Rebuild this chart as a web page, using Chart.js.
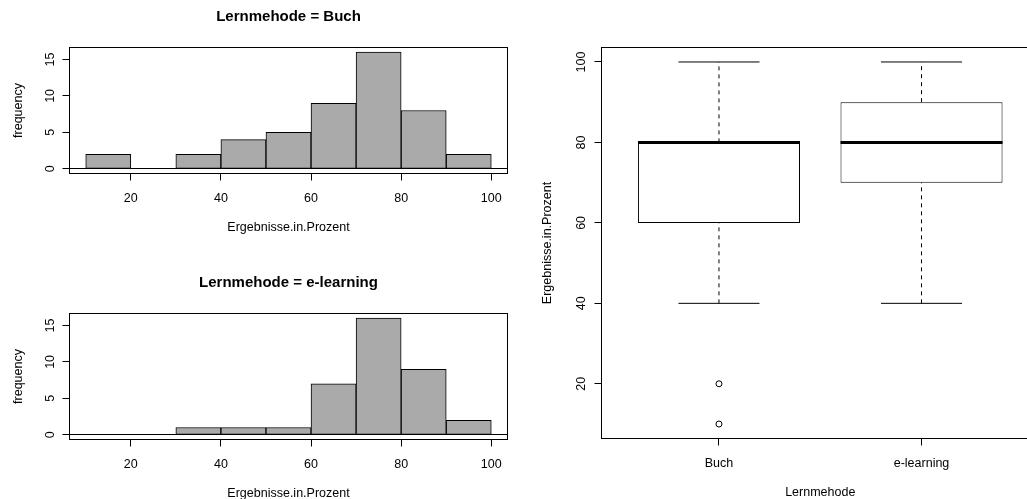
<!DOCTYPE html>
<html>
<head>
<meta charset="utf-8">
<script src="https://cdn.jsdelivr.net/npm/chart.js@4.4.1/dist/chart.umd.min.js"></script>
<style>
  html, body { margin: 0; padding: 0; width: 1027px; height: 499px; overflow: hidden; background: #fff; }
  canvas { position: absolute; }
  #histBuch { left: 0; top: 0; }
  #histElearning { left: 0; top: 266px; }
  #boxplot { left: 520px; top: 0; }
</style>
</head>
<body>
<canvas id="histBuch" width="520" height="250"></canvas>
<canvas id="histElearning" width="520" height="250"></canvas>
<canvas id="boxplot" width="540" height="515"></canvas>
<script>
// --- histogram data (bins of width 10, right-closed) ---
const binStarts = [10, 20, 30, 40, 50, 60, 70, 80, 90];
const binWidth = 10;
const countsBuch = [2, 0, 2, 4, 5, 9, 16, 8, 2];
const countsElearning = [0, 0, 1, 1, 1, 7, 16, 9, 2];
const histTicksX = [20, 40, 60, 80, 100];
const histTicksY = [0, 5, 10, 15];

// --- boxplot data ---
const groups = ['Buch', 'e-learning'];
const whiskerLow = [40, 40];
const q1 = [60, 70];
const medians = [80, 80];
const q3 = [80, 90];
const whiskerHigh = [100, 100];
const outliers = [[20, 10], []];
const boxTicksY = [20, 40, 60, 80, 100];

const FONT = "'Liberation Sans', Arial, Helvetica, sans-serif";
Chart.defaults.font.family = FONT;
Chart.defaults.font.size = 12.5;
Chart.defaults.color = '#000';

// R style axis range: data range plus 4% on each side
const rRange = (lo, hi) => {
  const pad = (hi - lo) * 0.04;
  return { min: lo - pad, max: hi + pad };
};

const fixTicks = values => scale => {
  scale.ticks = values.map(v => ({ value: v }));
};

// box around the plot region
const framePlugin = {
  id: 'frame',
  afterDatasetsDraw(chart) {
    const { ctx, chartArea: a } = chart;
    ctx.save();
    ctx.strokeStyle = '#000';
    ctx.lineWidth = 1;
    ctx.strokeRect(a.left, a.top, a.right - a.left, a.bottom - a.top);
    ctx.restore();
  }
};

function histogram(id, title, counts) {
  const xr = rRange(binStarts[0], binStarts[binStarts.length - 1] + binWidth);
  const yr = rRange(0, Math.max(...counts));
  new Chart(document.getElementById(id), {
    type: 'bar',
    data: {
      datasets: [{
        data: binStarts.map((b, i) => ({ x: b + binWidth / 2, y: counts[i] })),
        backgroundColor: '#aaaaaa',
        borderColor: '#000',
        borderWidth: 1,
        borderSkipped: false,
        barPercentage: 1,
        categoryPercentage: 1
      }]
    },
    options: {
      responsive: false,
      animation: false,
      layout: { padding: { left: 0, right: 12.5, top: 0, bottom: 0 } },
      plugins: {
        legend: { display: false },
        tooltip: { enabled: false },
        title: {
          display: true,
          text: title,
          fullSize: false,
          color: '#000',
          font: { size: 15, weight: 'bold' },
          padding: { top: 8, bottom: 21.5 }
        }
      },
      scales: {
        x: {
          type: 'linear',
          min: xr.min,
          max: xr.max,
          offset: false,
          afterBuildTicks: fixTicks(histTicksX),
          afterFit: s => { s.height = 76.5; },
          grid: { offset: false, drawOnChartArea: false, tickLength: 7, tickColor: '#000' },
          border: { display: false },
          ticks: { padding: 10.5, maxRotation: 0 },
          title: { display: true, text: 'Ergebnisse.in.Prozent', padding: { top: 0, bottom: 14.5 } }
        },
        y: {
          min: yr.min,
          max: yr.max,
          afterBuildTicks: fixTicks(histTicksY),
          afterFit: s => { s.width = 69.5; },
          grid: {
            color: c => (c.tick && c.tick.value === 0 ? '#000' : 'rgba(0,0,0,0)'),
            tickLength: 7,
            tickColor: '#000'
          },
          border: { display: false },
          ticks: { minRotation: 90, maxRotation: 90, crossAlign: 'center', padding: 5 },
          title: { display: true, text: 'frequency', padding: { top: 10.8, bottom: 0 } }
        }
      }
    },
    plugins: [framePlugin]
  });
}

histogram('histBuch', 'Lernmehode = Buch', countsBuch);
histogram('histElearning', 'Lernmehode = e-learning', countsElearning);

// --- boxplot built from floating bars and line segments ---
const BOX_W = 0.8;
const CAP_W = 0.4;
const pos = groups.map((g, i) => i + 1);
const gap = p => ({ x: p, y: null });
const segs = fn => pos.flatMap((p, i) => [...fn(p, i), gap(p)]);

const medianData = segs((p, i) => [
  { x: p - BOX_W / 2, y: medians[i] }, { x: p + BOX_W / 2, y: medians[i] }
]);
const whiskerData = segs((p, i) => [
  { x: p, y: q3[i] }, { x: p, y: whiskerHigh[i] }, gap(p),
  { x: p, y: whiskerLow[i] }, { x: p, y: q1[i] }
]);
const capData = segs((p, i) => [
  { x: p - CAP_W / 2, y: whiskerHigh[i] }, { x: p + CAP_W / 2, y: whiskerHigh[i] }, gap(p),
  { x: p - CAP_W / 2, y: whiskerLow[i] }, { x: p + CAP_W / 2, y: whiskerLow[i] }
]);
const outlierData = pos.flatMap((p, i) => outliers[i].map(v => ({ x: p, y: v })));

const bx = rRange(0.5, groups.length + 0.5);
const allVals = [...whiskerLow, ...whiskerHigh, ...outliers.flat()];
const by = rRange(Math.min(...allVals), Math.max(...allVals));

const lineStyle = { type: 'line', borderColor: '#000', pointRadius: 0, fill: false };

new Chart(document.getElementById('boxplot'), {
  type: 'bar',
  data: {
    datasets: [
      { ...lineStyle, data: medianData, borderWidth: 3 },
      { ...lineStyle, data: whiskerData, borderWidth: 1, borderDash: [4, 4] },
      { ...lineStyle, data: capData, borderWidth: 1 },
      {
        type: 'line', data: outlierData, showLine: false,
        pointRadius: 3, pointBorderWidth: 1,
        pointBorderColor: '#000', pointBackgroundColor: '#fff'
      },
      {
        type: 'bar',
        data: pos.map((p, i) => ({ x: p, y: [q1[i], q3[i]] })),
        backgroundColor: '#fff',
        borderColor: '#000',
        borderWidth: 1,
        borderSkipped: false,
        barPercentage: 1,
        categoryPercentage: BOX_W
      }
    ]
  },
  options: {
    responsive: false,
    animation: false,
    layout: { padding: { left: 0, right: 21, top: 47.5, bottom: 0 } },
    plugins: { legend: { display: false }, tooltip: { enabled: false } },
    scales: {
      x: {
        type: 'linear',
        min: bx.min,
        max: bx.max,
        offset: false,
        afterBuildTicks: fixTicks(pos),
        afterFit: s => { s.height = 76.5; },
        grid: { offset: false, drawOnChartArea: false, tickLength: 7, tickColor: '#000' },
        border: { display: false },
        ticks: { padding: 10.5, maxRotation: 0, callback: v => groups[v - 1] },
        title: { display: true, text: 'Lernmehode', padding: { top: 0, bottom: 14.5 } }
      },
      y: {
        min: by.min,
        max: by.max,
        afterBuildTicks: fixTicks(boxTicksY),
        afterFit: s => { s.width = 81.5; },
        grid: { drawOnChartArea: false, tickLength: 7, tickColor: '#000' },
        border: { display: false },
        ticks: { minRotation: 90, maxRotation: 90, crossAlign: 'center', padding: 2.5 },
        title: { display: true, text: 'Ergebnisse.in.Prozent', padding: { top: 20.5, bottom: 0 } }
      }
    }
  },
  plugins: [framePlugin]
});
</script>
</body>
</html>
